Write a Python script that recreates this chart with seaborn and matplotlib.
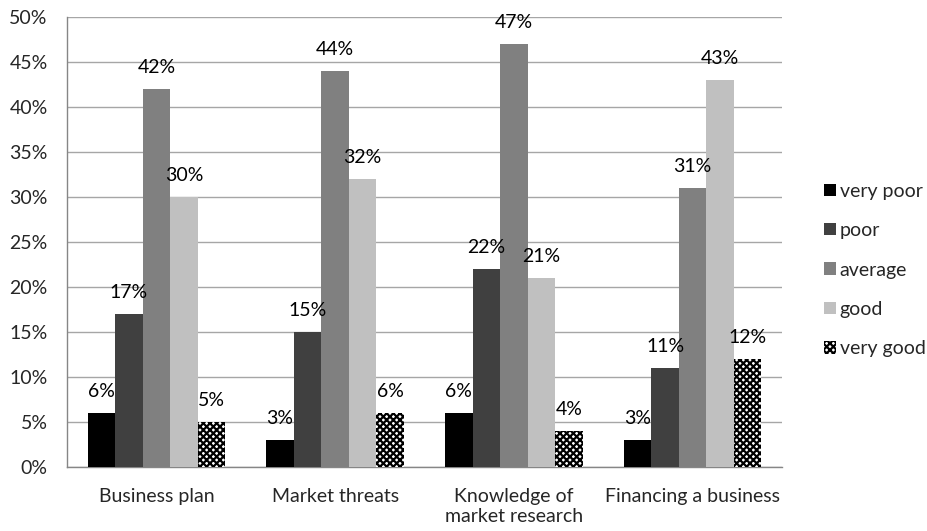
import matplotlib
matplotlib.use("Agg")
import matplotlib.pyplot as plt
import seaborn as sns
import pandas as pd

categories = ["Business plan", "Market threats", "Knowledge of\nmarket research", "Financing a business"]
ratings = ["very poor", "poor", "average", "good", "very good"]
very_poor = [6, 3, 6, 3]
poor = [17, 15, 22, 11]
average = [42, 44, 47, 31]
good = [30, 32, 21, 43]
very_good = [5, 6, 4, 12]
yticks = [0, 5, 10, 15, 20, 25, 30, 35, 40, 45, 50]

series = [very_poor, poor, average, good, very_good]
rows = []
for rating, vals in zip(ratings, series):
    for cat, v in zip(categories, vals):
        rows.append({"category": cat, "rating": rating, "value": v})
df = pd.DataFrame(rows)

sns.set_style("white")
plt.rcParams["font.family"] = ["Lato", "DejaVu Sans"]
plt.rcParams["hatch.linewidth"] = 1.6
FS = 14

palette = {"very poor": "#000000", "poor": "#404040", "average": "#808080",
           "good": "#c0c0c0", "very good": "#ffffff"}
HATCH = "xxxxx"

fig = plt.figure(figsize=(9.27, 5.31), dpi=100)
ax = fig.add_axes([0.0723, 0.1205, 0.7713, 0.8475])

sns.barplot(data=df, x="category", y="value", hue="rating", hue_order=ratings,
            order=categories, palette=palette, width=0.77, saturation=1,
            linewidth=0, ax=ax, legend=True, zorder=3)

# checkered fill for the top rating
for bar in ax.containers[-1]:
    bar.set_hatch(HATCH)
    bar.set_edgecolor("black")
    bar.set_linewidth(0)

for cont, vals in zip(ax.containers, series):
    ax.bar_label(cont, labels=[f"{v}%" for v in vals], padding=9.3,
                 fontsize=FS, color="black")

ax.set_ylim(0, 50)
ax.set_yticks(yticks)
ax.set_yticklabels([f"{t}%" for t in yticks], fontsize=FS)
ax.set_xlim(-0.5, 3.5)
ax.tick_params(axis="x", which="major", length=0, labelsize=FS, pad=15)
ax.set_xticks([-0.5, 0.5, 1.5, 2.5, 3.5], minor=True)
ax.tick_params(axis="x", which="minor", length=5, color="#868686", width=1)
ax.tick_params(axis="y", length=5, color="#868686", width=1, pad=9)
ax.set_xlabel("")
ax.set_ylabel("")
ax.grid(axis="y", color="#a6a6a6", linewidth=1, zorder=0)
ax.set_axisbelow(True)
for s in ["top", "right"]:
    ax.spines[s].set_visible(False)
for s in ["left", "bottom"]:
    ax.spines[s].set_color("#868686")
    ax.spines[s].set_linewidth(1)

handles, labels = ax.get_legend_handles_labels()
ax.get_legend().remove()
for h in handles:
    h.set_linewidth(0)
handles[-1].set_hatch(HATCH)
handles[-1].set_edgecolor("black")
fig.legend(handles, labels, loc="center left", bbox_to_anchor=(0.889, 0.4915),
           frameon=False, fontsize=FS, handlelength=0.6, handleheight=0.6,
           handletextpad=0.2, labelspacing=1.15, borderpad=0, borderaxespad=0)

fig.savefig("out.png", dpi=100)
